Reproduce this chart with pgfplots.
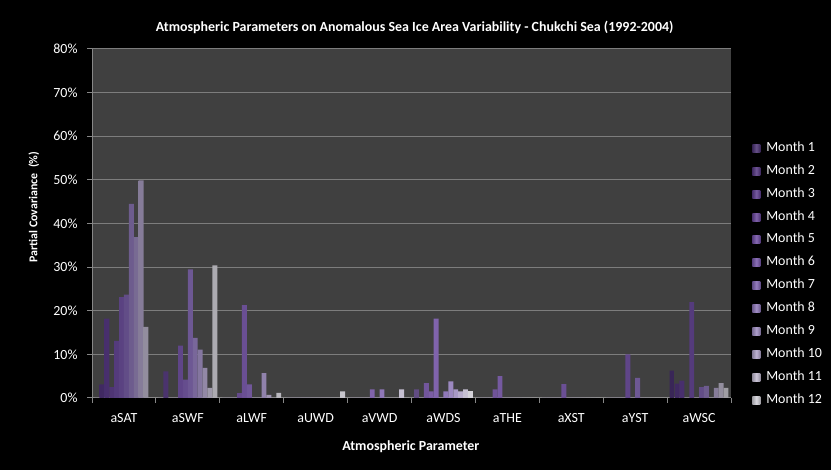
\documentclass[border=0pt]{standalone}
\usepackage{pgfplots}
\usepackage{pgfplotstable}
\pgfplotsset{compat=1.18}
\usepackage{fontspec}
\setmainfont{Carlito}
\definecolor{bggray}{RGB}{64,64,64}
\definecolor{gridgray}{RGB}{125,125,125}
\definecolor{axgray}{RGB}{135,135,135}
\definecolor{m1}{RGB}{75,50,115}
\definecolor{m2}{RGB}{85,55,130}
\definecolor{m3}{RGB}{95,62,145}
\definecolor{m4}{RGB}{105,70,155}
\definecolor{m5}{RGB}{112,78,165}
\definecolor{m6}{RGB}{120,88,172}
\definecolor{m7}{RGB}{130,102,180}
\definecolor{m8}{RGB}{145,122,188}
\definecolor{m9}{RGB}{160,142,195}
\definecolor{m10}{RGB}{178,165,203}
\definecolor{m11}{RGB}{195,188,210}
\definecolor{m12}{RGB}{212,210,218}

\pgfplotstableread{
x m1 m2 m3 m4 m5 m6 m7 m8 m9 m10 m11 m12
0 0 3.1 18.2 2.5 13.1 23.1 23.7 44.5 36.9 49.9 16.3 0
1 0 6.1 0 0 12.0 4.2 29.5 13.8 11.1 6.9 2.3 30.4
2 0 0 0 1.1 21.3 3.1 0 0 5.7 0.7 0 1.2
3 0 0 0 0 0 0 0 0 0 0 0 1.5
4 0 0 0 0 2.0 0 2.0 0 0 0 2.0 0
5 2.0 0 3.4 1.5 18.2 0 1.5 3.8 2.0 1.5 2.0 1.6
6 0 0 0 2.0 5.0 0 0 0 0 0 0 0
7 0 0 0 0 3.2 0 0 0 0 0 0 0
8 0 0 0 0 10.0 0 4.6 0 0 0 0 0
9 6.3 3.3 4.0 0 22.0 0 2.5 2.8 0 2.3 3.4 2.3
}\datatable

\pgfplotsset{
  mybar/.style={draw=none, left color=#1!75!black, right color=#1!75!black, middle color=#1!85!white,
    legend image code/.code={\path[##1] (0bp,-4bp) rectangle (8bp,4bp);}},
}

\begin{document}
\begin{tikzpicture}
\fill[black] (0,0) rectangle (831bp,470bp);
\path[use as bounding box] (0,0) rectangle (831bp,470bp);
\begin{axis}[
  at={(92bp,72bp)}, anchor=south west,
  scale only axis, width=639bp, height=349bp,
  xmin=-0.5, xmax=9.5, ymin=0, ymax=80,
  ybar=0pt, bar width=4.9bp,
  axis background/.style={fill=bggray},
  axis x line*=bottom, axis y line*=left,
  axis line style={draw=axgray, line width=1bp},
  ymajorgrids, grid style={draw=gridgray, line width=1bp},
  ytick={0,10,...,80},
  yticklabel={\pgfmathprintnumber{\tick}\%},
  /pgf/number format/assume math mode=true,
  xtick={-0.5,0.5,...,9.5}, xticklabels={},
  extra x ticks={0,1,2,3,4,5,6,7,8,9},
  extra x tick labels={aSAT,aSWF,aLWF,aUWD,aVWD,aWDS,aTHE,aXST,aYST,aWSC},
  extra x tick style={major tick length=0pt, grid=none},
  tick align=outside, major tick length=5bp,
  tick style={draw=axgray, line width=1bp},
  ticklabel style={font=\fontsize{14}{16}\selectfont, text=white},
  xticklabel style={yshift=-12bp},
  yticklabel style={xshift=-6bp},
  title={Atmospheric Parameters on Anomalous Sea Ice Area Variability - Chukchi Sea (1992-2004)},
  title style={at={(0.505,1.046)}, anchor=center, font=\bfseries\fontsize{14}{16}\selectfont, text=white},
  xlabel={Atmospheric Parameter},
  xlabel style={at={(0.499,-0.140)}, anchor=center, font=\bfseries\fontsize{14}{16}\selectfont, text=white},
  ylabel={Partial Covariance~~(\%)},
  ylabel style={at={(-0.091,0.547)}, anchor=center, font=\bfseries\fontsize{12}{14}\selectfont, text=white},
  legend style={at={(1.033,0.736)}, anchor=north west, draw=none, fill=none,
    font=\fontsize{14}{16}\selectfont, text=white, row sep=8.9bp, inner sep=0pt,
    nodes={inner ysep=2bp, text height=8bp, text depth=2bp},
    /tikz/every odd column/.append style={column sep=4bp}},
  legend cell align=left,
]
\addplot[mybar=m1] table[x=x,y=m1] \datatable;
\addplot[mybar=m2] table[x=x,y=m2] \datatable;
\addplot[mybar=m3] table[x=x,y=m3] \datatable;
\addplot[mybar=m4] table[x=x,y=m4] \datatable;
\addplot[mybar=m5] table[x=x,y=m5] \datatable;
\addplot[mybar=m6] table[x=x,y=m6] \datatable;
\addplot[mybar=m7] table[x=x,y=m7] \datatable;
\addplot[mybar=m8] table[x=x,y=m8] \datatable;
\addplot[mybar=m9] table[x=x,y=m9] \datatable;
\addplot[mybar=m10] table[x=x,y=m10] \datatable;
\addplot[mybar=m11] table[x=x,y=m11] \datatable;
\addplot[mybar=m12] table[x=x,y=m12] \datatable;
\legend{Month 1,Month 2,Month 3,Month 4,Month 5,Month 6,Month 7,Month 8,Month 9,Month 10,Month 11,Month 12}
\end{axis}
\end{tikzpicture}
\end{document}
